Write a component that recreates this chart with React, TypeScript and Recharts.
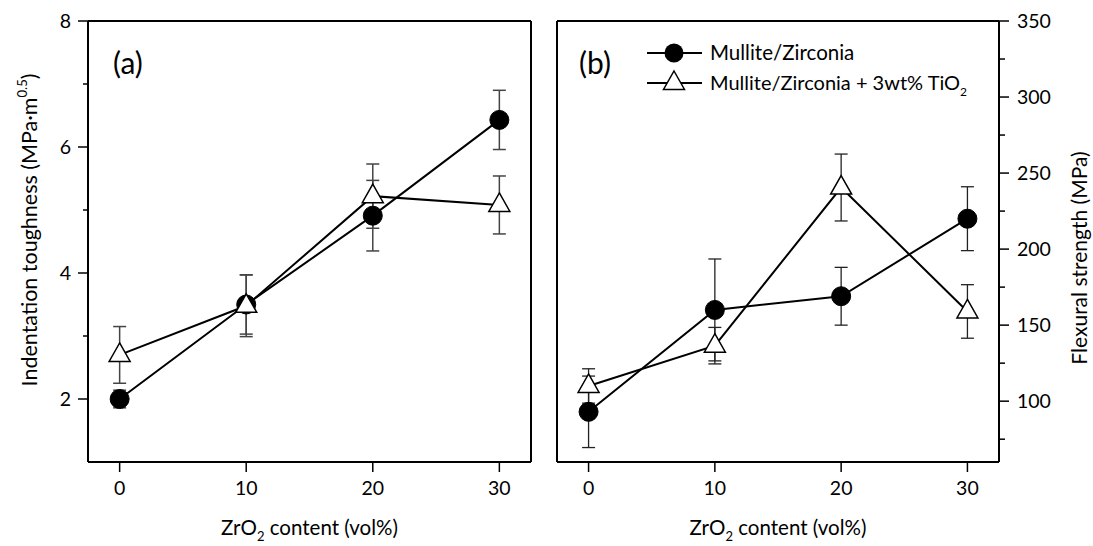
import React from 'react';
import { ComposedChart, Line, XAxis, YAxis, ErrorBar, Legend } from 'recharts';

// ZrO2 content (vol%)
const zrContent = [0, 10, 20, 30];
const xTicks = [0, 10, 20, 30];

// (a) indentation toughness, MPa·m^0.5
const toughMZ = [2.0, 3.5, 4.91, 6.43];
const toughMZErr = [0.14, 0.47, 0.56, 0.47];
const toughMZT = [2.7, 3.48, 5.22, 5.08];
const toughMZTErr = [0.45, 0.49, 0.51, 0.46];

// (b) flexural strength, MPa
const strengthMZ = [93, 160, 169, 220];
const strengthMZErr = [23.5, 33.5, 19, 21];
const strengthMZT = [110, 136.5, 240.5, 159];
const strengthMZTErr = [11.3, 12, 22, 17.6];

const toughTicks = [2, 3, 4, 5, 6, 7, 8];
const toughInnerTicks = [2, 3, 4, 5, 6, 7];
const strengthTicks = [75, 100, 125, 150, 175, 200, 225, 250, 275, 300, 325, 350];
const strengthInnerTicks = [75, 100, 125, 150, 175, 200, 225, 250, 275, 300, 325];

const seriesNames = ['Mullite/Zirconia', 'Mullite/Zirconia + 3wt% TiO'];

const toughRows = zrContent.map((zr, i) => ({
  zr,
  mz: toughMZ[i],
  mzErr: toughMZErr[i],
  mzt: toughMZT[i],
  mztErr: toughMZTErr[i],
}));

const strengthRows = zrContent.map((zr, i) => ({
  zr,
  mz: strengthMZ[i],
  mzErr: strengthMZErr[i],
  mzt: strengthMZT[i],
  mztErr: strengthMZTErr[i],
}));

const FONT = 'Lato, "Open Sans", sans-serif';
const axisLine = { stroke: '#000', strokeWidth: 2 };
const tickLine = { stroke: '#000', strokeWidth: 1.5 };
const tickText = { fill: '#000', fontSize: 19.5, fontFamily: FONT };

const renderCircle = (props: any) => {
  const { cx, cy, index } = props;
  if (cx == null || cy == null) return <g key={`c${index}`} />;
  return <circle key={`c${index}`} cx={cx} cy={cy} r={9.5} fill="#000" stroke="#000" />;
};

const renderTriangle = (props: any) => {
  const { cx, cy, index } = props;
  if (cx == null || cy == null) return <g key={`t${index}`} />;
  return (
    <path
      key={`t${index}`}
      d={`M${cx},${cy - 12} L${cx + 10.5},${cy + 6.5} L${cx - 10.5},${cy + 6.5} Z`}
      fill="#fff"
      stroke="#000"
      strokeWidth={1.5}
    />
  );
};

const LeftTick = (props: any) => {
  const { x, y, payload } = props;
  const major = payload.value % 2 === 0;
  return (
    <g>
      <line x1={x - (major ? 10 : 5)} x2={x} y1={y} y2={y} stroke="#000" strokeWidth={1.5} />
      {major && (
        <text x={x - 17} y={y} dy="0.36em" textAnchor="end" {...tickText}>
          {payload.value}
        </text>
      )}
    </g>
  );
};

const RightTick = (props: any) => {
  const { x, y, payload } = props;
  const major = payload.value % 50 === 0;
  return (
    <g>
      <line x1={x} x2={x + (major ? 10 : 6)} y1={y} y2={y} stroke="#000" strokeWidth={1.5} />
      {major && (
        <text x={x + 18} y={y} dy="0.36em" textAnchor="start" {...tickText}>
          {payload.value}
        </text>
      )}
    </g>
  );
};

const xTitle = (props: any) => {
  const vb = props.viewBox || {};
  const cx = vb.x + vb.width / 2;
  return (
    <text x={cx} y={535} textAnchor="middle" fontSize={20.5} fontFamily={FONT} fill="#000">
      ZrO
      <tspan dy={6} fontSize={13}>2</tspan>
      <tspan dy={-6}> content (vol%)</tspan>
    </text>
  );
};

const toughTitle = () => (
  <text
    x={37}
    y={230}
    transform="rotate(-90, 37, 230)"
    textAnchor="middle"
    fontSize={21.5}
    fontFamily={FONT}
    fill="#000"
  >
    Indentation toughness (MPa·m
    <tspan dy={-10} fontSize={13}>0.5</tspan>
    <tspan dy={10}>)</tspan>
  </text>
);

const strengthTitle = () => (
  <text
    x={547}
    y={258}
    transform="rotate(-90, 547, 258)"
    textAnchor="middle"
    fontSize={21}
    fontFamily={FONT}
    fill="#000"
  >
    Flexural strength (MPa)
  </text>
);

const renderLegend = () => (
  <svg width={340} height={62} style={{ overflow: 'visible' }}>
    <line x1={0} x2={55} y1={13} y2={13} stroke="#000" strokeWidth={2} />
    <circle cx={27} cy={13} r={9.5} fill="#000" />
    <text x={63} y={13} dy="0.36em" fontSize={20.5} fontFamily={FONT} fill="#000">
      {seriesNames[0]}
    </text>
    <line x1={0} x2={55} y1={43} y2={43} stroke="#000" strokeWidth={2} />
    <path d="M27,31 L37.5,49.5 L16.5,49.5 Z" fill="#fff" stroke="#000" strokeWidth={1.5} />
    <text x={63} y={43} dy="0.36em" fontSize={20} fontFamily={FONT} fill="#000">
      {seriesNames[1]}
      <tspan dy={6} fontSize={12}>2</tspan>
    </text>
  </svg>
);

const panelLabel = (text: string, left: number) => (
  <div
    style={{
      position: 'absolute',
      left,
      top: 46,
      fontSize: 30,
      lineHeight: '32px',
      fontFamily: FONT,
      color: '#000',
    }}
  >
    {text}
  </div>
);

export default function App() {
  return (
    <div
      style={{
        position: 'absolute',
        left: 0,
        top: 0,
        width: 1093,
        height: 546,
        background: '#fff',
        overflow: 'hidden',
      }}
    >
      <div style={{ position: 'absolute', left: 0, top: 0 }}>
        <ComposedChart width={540} height={546} data={toughRows} margin={{ top: 21, right: 9, bottom: 34, left: 0 }}>
          <XAxis
            xAxisId="b"
            dataKey="zr"
            type="number"
            domain={[-2.5, 32.5]}
            ticks={xTicks}
            height={50}
            tickSize={10}
            tickMargin={9}
            axisLine={axisLine}
            tickLine={tickLine}
            tick={tickText}
            label={xTitle}
            allowDataOverflow
          />
          <XAxis
            xAxisId="t"
            orientation="top"
            mirror
            type="number"
            domain={[-2.5, 32.5]}
            ticks={xTicks}
            tickSize={4}
            tick={false}
            axisLine={axisLine}
            tickLine={tickLine}
            allowDataOverflow
          />
          <YAxis
            yAxisId="l"
            type="number"
            domain={[1, 8]}
            ticks={toughTicks}
            width={88}
            tickSize={0}
            tickMargin={0}
            tickLine={false}
            tick={<LeftTick />}
            axisLine={axisLine}
            label={toughTitle}
            allowDataOverflow
          />
          <YAxis
            yAxisId="r"
            orientation="right"
            mirror
            type="number"
            domain={[1, 8]}
            ticks={toughInnerTicks}
            tickSize={5}
            tick={false}
            axisLine={axisLine}
            tickLine={tickLine}
            allowDataOverflow
          />
          <Line
            xAxisId="b"
            yAxisId="l"
            dataKey="mz"
            name={seriesNames[0]}
            stroke="#000"
            strokeWidth={2}
            dot={renderCircle}
            activeDot={false}
            isAnimationActive={false}
          >
            <ErrorBar dataKey="mzErr" direction="y" width={6.5} stroke="#444" strokeWidth={1.5} />
          </Line>
          <Line
            xAxisId="b"
            yAxisId="l"
            dataKey="mzt"
            name={seriesNames[1]}
            stroke="#000"
            strokeWidth={2}
            dot={renderTriangle}
            activeDot={false}
            isAnimationActive={false}
          >
            <ErrorBar dataKey="mztErr" direction="y" width={6.5} stroke="#444" strokeWidth={1.5} />
          </Line>
        </ComposedChart>
      </div>

      <div style={{ position: 'absolute', left: 540, top: 0 }}>
        <ComposedChart width={553} height={546} data={strengthRows} margin={{ top: 21, right: 0, bottom: 34, left: 17 }}>
          <XAxis
            xAxisId="b"
            dataKey="zr"
            type="number"
            domain={[-2.5, 32.5]}
            ticks={xTicks}
            height={50}
            tickSize={10}
            tickMargin={9}
            axisLine={axisLine}
            tickLine={tickLine}
            tick={tickText}
            label={xTitle}
            allowDataOverflow
          />
          <XAxis
            xAxisId="t"
            orientation="top"
            mirror
            type="number"
            domain={[-2.5, 32.5]}
            ticks={xTicks}
            tickSize={4}
            tick={false}
            axisLine={axisLine}
            tickLine={tickLine}
            allowDataOverflow
          />
          <YAxis
            yAxisId="l"
            mirror
            type="number"
            domain={[60, 350]}
            ticks={strengthInnerTicks}
            tickSize={4}
            tick={false}
            axisLine={axisLine}
            tickLine={{ stroke: '#000', strokeWidth: 1 }}
            allowDataOverflow
          />
          <YAxis
            yAxisId="r"
            orientation="right"
            type="number"
            domain={[60, 350]}
            ticks={strengthTicks}
            width={94}
            tickSize={0}
            tickMargin={0}
            tickLine={false}
            tick={<RightTick />}
            axisLine={axisLine}
            label={strengthTitle}
            allowDataOverflow
          />
          <Legend
            layout="horizontal"
            verticalAlign="middle"
            align="center"
            content={renderLegend}
            wrapperStyle={{ left: 107, top: 40, width: 340, height: 62 }}
          />
          <Line
            xAxisId="b"
            yAxisId="r"
            dataKey="mz"
            name={seriesNames[0]}
            stroke="#000"
            strokeWidth={2}
            dot={renderCircle}
            activeDot={false}
            isAnimationActive={false}
          >
            <ErrorBar dataKey="mzErr" direction="y" width={6.5} stroke="#222" strokeWidth={1.3} />
          </Line>
          <Line
            xAxisId="b"
            yAxisId="r"
            dataKey="mzt"
            name={seriesNames[1]}
            stroke="#000"
            strokeWidth={2}
            dot={renderTriangle}
            activeDot={false}
            isAnimationActive={false}
          >
            <ErrorBar dataKey="mztErr" direction="y" width={6.5} stroke="#222" strokeWidth={1.3} />
          </Line>
        </ComposedChart>
      </div>

      {panelLabel('(a)', 113)}
      {panelLabel('(b)', 579)}
    </div>
  );
}
